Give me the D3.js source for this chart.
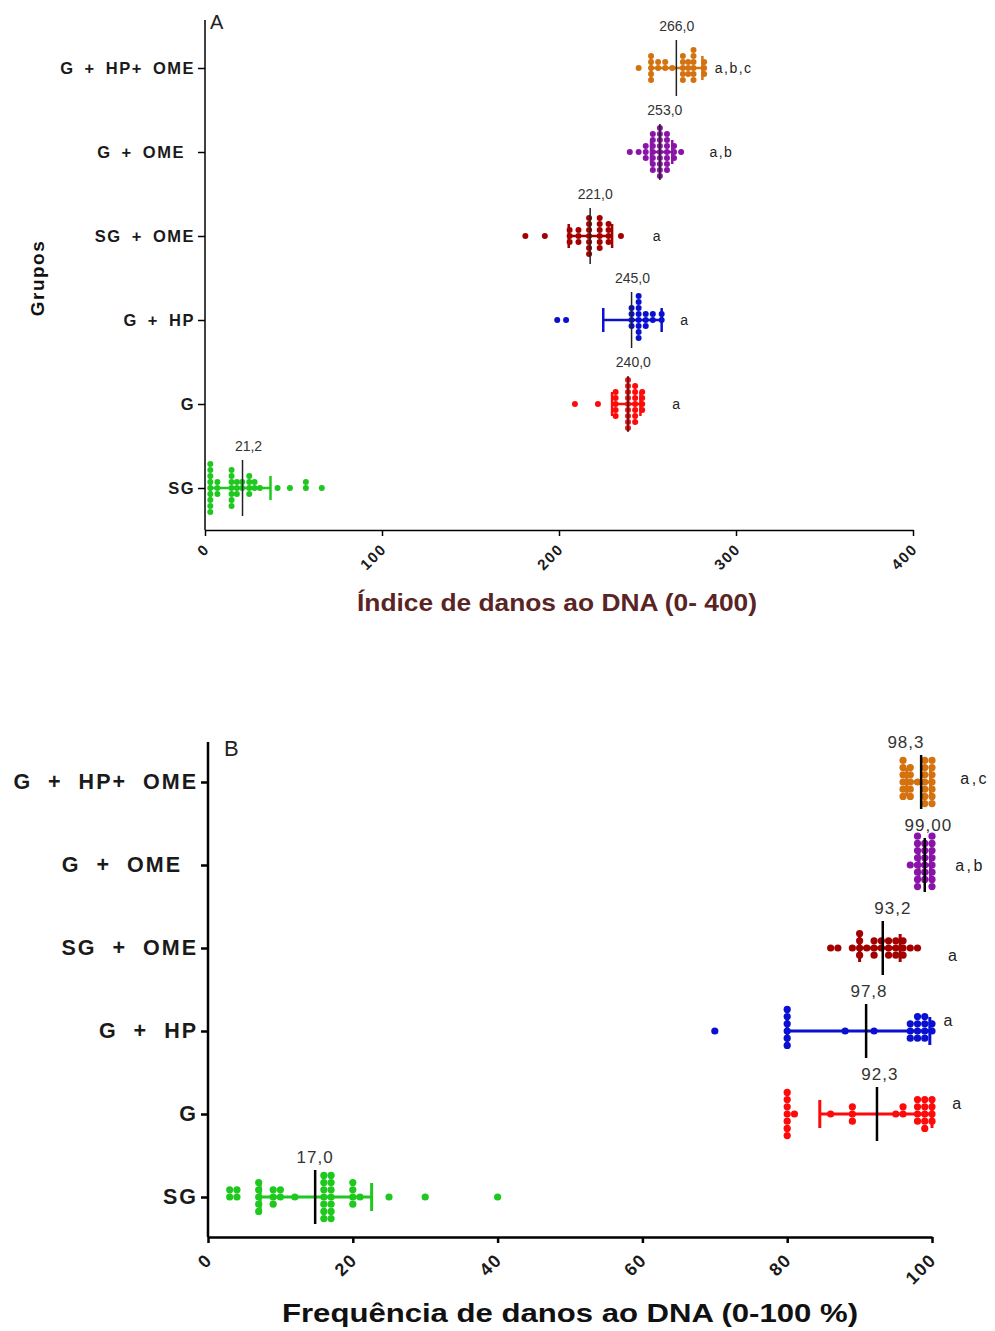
<!DOCTYPE html>
<html><head><meta charset="utf-8">
<script src="https://cdn.jsdelivr.net/npm/d3@7"></script>
<style>body{margin:0;background:#fff;} text{font-family:"Liberation Sans",Arial,sans-serif;}</style>
</head><body><svg id="c" width="995" height="1331"></svg>
<script>
// ---------- shared categories ----------
const groups = ["G + HP+ OME", "G + OME ", "SG + OME", "G + HP", "G", "SG"];
const colors = ["#d4720f", "#8a14a8", "#a30000", "#0a10d0", "#ff0a0a", "#1ec81e"];

// ---------- Panel A : Índice de danos ao DNA ----------
const xTicksA = [0, 100, 200, 300, 400];
const aHpOme = [245, 252, 252, 252, 252, 252, 256, 256, 260, 260, 264, 270, 270, 270, 270, 270, 273, 273, 273, 276, 276, 276, 276, 276, 276, 282, 282, 282];
const aOme = [240, 245, 249, 249, 249, 253, 253, 253, 253, 253, 253, 253, 257, 257, 257, 257, 257, 257, 257, 257, 257, 261, 261, 261, 261, 261, 261, 261, 265, 265, 265, 269];
const aSgOme = [181, 192, 206, 206, 206, 211, 211, 211, 217, 217, 217, 217, 217, 217, 217, 223, 223, 223, 223, 223, 223, 228, 228, 228, 228, 235];
const aHp = [199, 204, 241, 241, 241, 241, 245, 245, 245, 245, 245, 245, 245, 245, 249, 249, 249, 253, 253, 258, 258];
const aG = [209, 222, 232, 232, 232, 232, 232, 239, 239, 239, 239, 239, 239, 239, 239, 239, 243, 243, 243, 243, 243, 243, 243, 247, 247, 247, 247];
const aSg = [3, 3, 3, 3, 3, 3, 3, 3, 3, 7, 7, 7, 15, 15, 15, 15, 15, 15, 15, 18, 18, 18, 21, 21, 25, 25, 25, 25, 28, 28, 31, 41, 48, 57, 57, 66];
const aMedians = [266.3, 257, 217.6, 241, 239, 21.2];
const aMedianLabels = ["266,0", "253,0", "221,0", "245,0", "240,0", "21,2"];
const aLabelAt = [266.5, 259.8, 220.5, 241.5, 242, 24.6];
const aErrLo = [252, 252, 205.5, 225, 230, 3];
const aErrHi = [281, 264, 230, 258, 246, 37];
const aLetters = ["a,b,c", "a,b", "a", "a", "a", ""];
const aLetterAt = [288, 285, 253, 268.5, 264, 0];

// ---------- Panel B : Frequência de danos ao DNA ----------
const xTicksB = [0, 20, 40, 60, 80, 100];
const bHpOme = [96, 96, 96, 96, 96, 96, 97, 97, 97, 97, 97, 98, 99, 99, 99, 99, 99, 99, 99, 100, 100, 100, 100, 100, 100, 100];
const bOme = [97, 98, 98, 98, 98, 98, 98, 98, 98, 99, 99, 99, 99, 99, 99, 100, 100, 100, 100, 100, 100, 100, 100];
const bSgOme = [86, 87, 89, 90, 90, 90, 90, 91, 92, 92, 92, 93, 93, 94, 94, 94, 95, 95, 95, 96, 96, 96, 97, 98];
const bHp = [70, 80, 80, 80, 80, 80, 80, 88, 92, 97, 97, 97, 98, 98, 98, 98, 99, 99, 99, 99, 100, 100];
const bG = [80, 80, 80, 80, 80, 80, 80, 81, 86, 89, 89, 89, 95, 96, 96, 98, 98, 98, 98, 99, 99, 99, 99, 99, 100, 100, 100, 100];
const bSg = [3, 3, 4, 4, 7, 7, 7, 7, 7, 9, 9, 9, 10, 10, 12, 16, 16, 16, 16, 16, 16, 16, 17, 17, 17, 17, 17, 17, 17, 20, 20, 20, 20, 21, 25, 30, 40];
const bMedians = [98.5, 99.0, 93.2, 90.9, 92.4, 14.8];
const bMedianLabels = ["98,3", "99,00", "93,2", "97,8", "92,3", "17,0"];
const bLabelAt = [96.4, 99.5, 94.6, 91.3, 92.8, 14.8];
const bErrLo = [96.5, 98.2, 90, 80, 84.5, 7.2];
const bErrHi = [99.8, 99.8, 95.6, 99.7, 100, 22.6];
const bLetters = ["a,c", "a,b", "a", "a", "a", ""];
const bLetterAt = [103.9, 103.2, 102.2, 101.6, 102.8, 0];
const bLetterShift = [-4, 0, 7, -11, -11, 0];

const svg = d3.select("#c");

// column scatter layout (dots sharing a bin are stacked vertically)
function columns(vals, xs, s, binU) {
  const out = [];
  const bins = d3.group(vals, v => Math.round(v / binU));
  for (const [, arr] of bins) {
    arr.slice().sort((a, b) => a - b).forEach((v, k) => {
      const step = Math.ceil(k / 2) * (k % 2 ? -1 : 1);
      out.push({ v, x: xs(v), y: step * s });
    });
  }
  return out;
}

function panel(cfg) {
  const g = svg.append("g");
  const x = d3.scaleLinear().domain(cfg.domain).range([cfg.x0, cfg.x1]);
  const y = d3.scalePoint().domain(groups).range([cfg.yFirst, cfg.yLast]);

  const xa = g.append("g").attr("transform", `translate(0,${cfg.axisY})`)
    .call(d3.axisBottom(x).tickValues(cfg.ticks).tickSize(6).tickSizeOuter(0).tickFormat(d3.format("d")));
  xa.select(".domain").attr("stroke", "#000").attr("stroke-width", cfg.axisW);
  xa.selectAll(".tick line").attr("stroke", "#000").attr("stroke-width", cfg.axisW);
  xa.selectAll(".tick text").attr("font-size", cfg.tickFont).attr("font-weight", "bold").attr("fill", "#1a1a1a")
    .attr("letter-spacing", cfg.tickLs).attr("text-anchor", "end").attr("y", 0).attr("dy", 0)
    .attr("transform", `translate(${cfg.tickDx},${cfg.tickDy}) rotate(-45)`);

  const ya = g.append("g").attr("transform", `translate(${cfg.x0},0)`)
    .call(d3.axisLeft(y).tickSize(7).tickSizeOuter(0).tickPadding(3));
  ya.select(".domain").attr("d", `M0,${cfg.yTop}V${cfg.axisY}`).attr("stroke", "#000").attr("stroke-width", cfg.axisW);
  ya.selectAll(".tick line").attr("stroke", "#000").attr("stroke-width", cfg.axisW);
  ya.selectAll(".tick text").attr("font-size", cfg.catFont).attr("font-weight", "bold").attr("fill", "#1a1a1a")
    .attr("letter-spacing", cfg.catLs).attr("word-spacing", cfg.catWs).style("white-space", "pre");

  cfg.series.forEach((vals, i) => {
    const cy = y(groups[i]);
    const col = colors[i];
    const pts = columns(vals, x, cfg.r * 2, cfg.binU);
    g.append("g").selectAll("circle").data(pts).join("circle")
      .attr("cx", d => d.x).attr("cy", d => cy + d.y).attr("r", cfg.r).attr("fill", col);
    const lo = x(cfg.lo[i]), hi = x(cfg.hi[i]);
    g.append("line").attr("x1", lo).attr("x2", hi).attr("y1", cy).attr("y2", cy).attr("stroke", col).attr("stroke-width", cfg.barW);
    [lo, hi].forEach(px => g.append("line").attr("x1", px).attr("x2", px).attr("y1", cy - cfg.cap).attr("y2", cy + cfg.cap)
      .attr("stroke", col).attr("stroke-width", cfg.barW));
    const mx = x(cfg.med[i]);
    g.append("line").attr("x1", mx).attr("x2", mx).attr("y1", cy - cfg.medH).attr("y2", cy + cfg.medH)
      .attr("stroke", cfg.medCol).attr("stroke-width", cfg.medW);
    g.append("text").attr("x", x(cfg.labelAt[i])).attr("y", cy - cfg.labDy).attr("text-anchor", "middle")
      .attr("font-size", cfg.labFont).attr("letter-spacing", cfg.labLs).attr("fill", "#333").text(cfg.labels[i]);
    if (cfg.letters[i]) g.append("text").attr("x", x(cfg.letterAt[i])).attr("y", cy + (cfg.letShift ? cfg.letShift[i] : 0))
      .attr("dy", "0.35em").attr("font-size", cfg.letFont).attr("letter-spacing", cfg.letLs).attr("fill", "#222").text(cfg.letters[i]);
  });
}

panel({
  domain: [0, 400], x0: 205, x1: 913, yFirst: 68, yLast: 488, yTop: 20, axisY: 530,
  ticks: xTicksA, axisW: 1.5, tickFont: 15, tickLs: 1.5, tickDx: 5, tickDy: 20,
  catFont: 16.5, catLs: 1.5, catWs: 4, r: 3, binU: 3, barW: 2.5, cap: 12, medH: 28, medCol: "#222", medW: 1.5,
  labFont: 14, labLs: 0, labDy: 37, letFont: 14, letLs: 1.5,
  series: [aHpOme, aOme, aSgOme, aHp, aG, aSg], labelAt: aLabelAt,
  lo: aErrLo, hi: aErrHi, med: aMedians, labels: aMedianLabels, letters: aLetters, letterAt: aLetterAt
});

panel({
  domain: [0, 100], x0: 208, x1: 932, yFirst: 782, yLast: 1197, yTop: 742, axisY: 1237,
  ticks: xTicksB, axisW: 2.5, tickFont: 18, tickLs: 1.5, tickDx: 5, tickDy: 24,
  catFont: 21.5, catLs: 2, catWs: 8, r: 3.6, binU: 1, barW: 3, cap: 14, medH: 27, medCol: "#000", medW: 2.5,
  labFont: 17, labLs: 1, labDy: 34, letFont: 16, letLs: 2.5,
  series: [bHpOme, bOme, bSgOme, bHp, bG, bSg], labelAt: bLabelAt, letShift: bLetterShift,
  lo: bErrLo, hi: bErrHi, med: bMedians, labels: bMedianLabels, letters: bLetters, letterAt: bLetterAt
});

svg.append("text").attr("x", 210).attr("y", 29).attr("font-size", 20).attr("fill", "#222").text("A");
svg.append("text").attr("x", 224).attr("y", 756).attr("font-size", 22).attr("fill", "#222").text("B");
svg.append("text").attr("transform", "translate(44,278) rotate(-90)").attr("text-anchor", "middle")
  .attr("font-size", 19).attr("font-weight", "bold").attr("letter-spacing", 1.5).attr("fill", "#111").text("Grupos");
svg.append("text").attr("x", 557).attr("y", 611).attr("text-anchor", "middle").attr("font-size", 23)
  .attr("font-weight", "bold").attr("fill", "#5a2424").attr("textLength", 400).attr("lengthAdjust", "spacingAndGlyphs")
  .text("Índice de danos ao DNA (0- 400)");
svg.append("text").attr("x", 570).attr("y", 1322).attr("text-anchor", "middle").attr("font-size", 25)
  .attr("font-weight", "bold").attr("fill", "#111").attr("textLength", 576).attr("lengthAdjust", "spacingAndGlyphs")
  .text("Frequência de danos ao DNA (0-100 %)");
</script></body></html>
